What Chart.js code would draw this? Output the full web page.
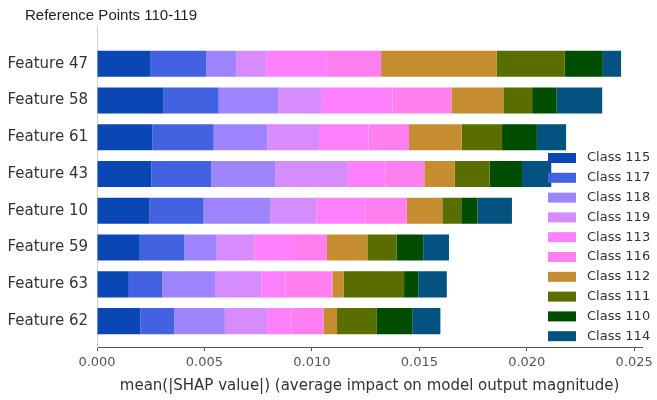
<!DOCTYPE html>
<html>
<head>
<meta charset="utf-8">
<script src="https://cdn.jsdelivr.net/npm/chart.js@4"></script>
<style>
  body { margin: 0; background: #fff; }
</style>
</head>
<body>
<canvas id="shapChart" width="657" height="400"></canvas>
<script>
const titleText = 'Reference Points 110-119';
const axisTitle = 'mean(|SHAP value|) (average impact on model output magnitude)';

const features = ['Feature 47', 'Feature 58', 'Feature 61', 'Feature 43', 'Feature 10', 'Feature 59', 'Feature 63', 'Feature 62'];
const classes = ['Class 115', 'Class 117', 'Class 118', 'Class 119', 'Class 113', 'Class 116', 'Class 112', 'Class 111', 'Class 110', 'Class 114'];
const colors = ['#0a47b4', '#4262e2', '#9f84ff', '#d68bff', '#ff80ff', '#ff7ef0', '#c68d30', '#5a6e00', '#004d00', '#03527f'];

// mean |SHAP| per class, one entry per feature (same order as features)
const class115 = [0.00250, 0.00310, 0.00258, 0.00253, 0.00245, 0.00199, 0.00148, 0.00202];
const class117 = [0.00258, 0.00256, 0.00285, 0.00279, 0.00251, 0.00208, 0.00156, 0.00157];
const class118 = [0.00140, 0.00278, 0.00250, 0.00299, 0.00312, 0.00150, 0.00245, 0.00236];
const class119 = [0.00139, 0.00199, 0.00244, 0.00336, 0.00213, 0.00175, 0.00216, 0.00197];
const class113 = [0.00282, 0.00333, 0.00227, 0.00175, 0.00227, 0.00185, 0.00113, 0.00114];
const class116 = [0.00253, 0.00273, 0.00188, 0.00181, 0.00194, 0.00153, 0.00218, 0.00148];
const class112 = [0.00537, 0.00242, 0.00245, 0.00142, 0.00165, 0.00188, 0.00051, 0.00063];
const class111 = [0.00318, 0.00134, 0.00188, 0.00162, 0.00088, 0.00136, 0.00282, 0.00183];
const class110 = [0.00177, 0.00114, 0.00162, 0.00151, 0.00076, 0.00124, 0.00066, 0.00167];
const class114 = [0.00085, 0.00212, 0.00136, 0.00136, 0.00160, 0.00120, 0.00133, 0.00131];

const xTicks = [0, 0.005, 0.010, 0.015, 0.020, 0.025];

const series = [class115, class117, class118, class119, class113, class116, class112, class111, class110, class114];

// title and legend sit on top of the plot, like the matplotlib original
const overlay = {
    id: 'overlay',
    afterDraw(chart) {
        const ctx = chart.ctx;
        ctx.save();
        ctx.textBaseline = 'middle';
        ctx.fillStyle = '#222';
        ctx.font = '15px "Liberation Sans", Arial, sans-serif';
        ctx.fillText(titleText, 25, 16);

        ctx.font = '13px "DejaVu Sans"';
        classes.forEach((name, i) => {
            const y = 158 + i * 19.8;
            ctx.fillStyle = colors[i];
            ctx.fillRect(548, y - 5, 28, 10);
            ctx.fillStyle = '#333';
            ctx.fillText(name, 587, y);
        });
        ctx.restore();
    }
};

const ctx = document.getElementById('shapChart').getContext('2d');
const shapChart = new Chart(ctx, {
    type: 'bar',
    data: {
        datasets: series.map((vals, i) => ({
            label: classes[i],
            data: vals.map((v, j) => ({ x: v, y: j })),
            backgroundColor: colors[i],
            borderWidth: 0,
            categoryPercentage: 1,
            barPercentage: 0.71
        }))
    },
    options: {
        indexAxis: 'y',
        responsive: false,
        animation: false,
        devicePixelRatio: 1,
        layout: { padding: { top: 25, right: 12, left: 0, bottom: 0 } },
        plugins: {
            legend: { display: false },
            tooltip: { enabled: false }
        },
        scales: {
            x: {
                stacked: true,
                min: 0,
                max: 0.02537,
                afterBuildTicks: s => { s.ticks = xTicks.map(v => ({ value: v })); },
                afterFit: s => { s.height = 53; },
                grid: { display: true, drawOnChartArea: false, drawTicks: true, tickLength: 4, color: '#555' },
                border: { color: '#555', width: 1 },
                ticks: {
                    color: '#555',
                    padding: 4,
                    font: { family: 'DejaVu Sans', size: 13 },
                    maxRotation: 0,
                    callback: v => v.toFixed(3)
                },
                title: {
                    display: true,
                    text: axisTitle,
                    color: '#333',
                    font: { family: 'DejaVu Sans', size: 15 },
                    padding: { top: 0, bottom: 5 }
                }
            },
            y: {
                type: 'linear',
                stacked: true,
                reverse: true,
                offset: false,
                min: -1.055,
                max: 7.705,
                afterBuildTicks: s => { s.ticks = features.map((f, i) => ({ value: i })); },
                afterFit: s => { s.width = 97; },
                grid: { display: false, drawTicks: false, tickLength: 0 },
                border: { display: true, color: '#d0d0d0', width: 1 },
                ticks: {
                    color: '#333',
                    padding: 9,
                    autoSkip: false,
                    font: { family: 'DejaVu Sans', size: 15 },
                    callback: v => features[v]
                }
            }
        }
    },
    plugins: [overlay]
});
</script>
</body>
</html>
